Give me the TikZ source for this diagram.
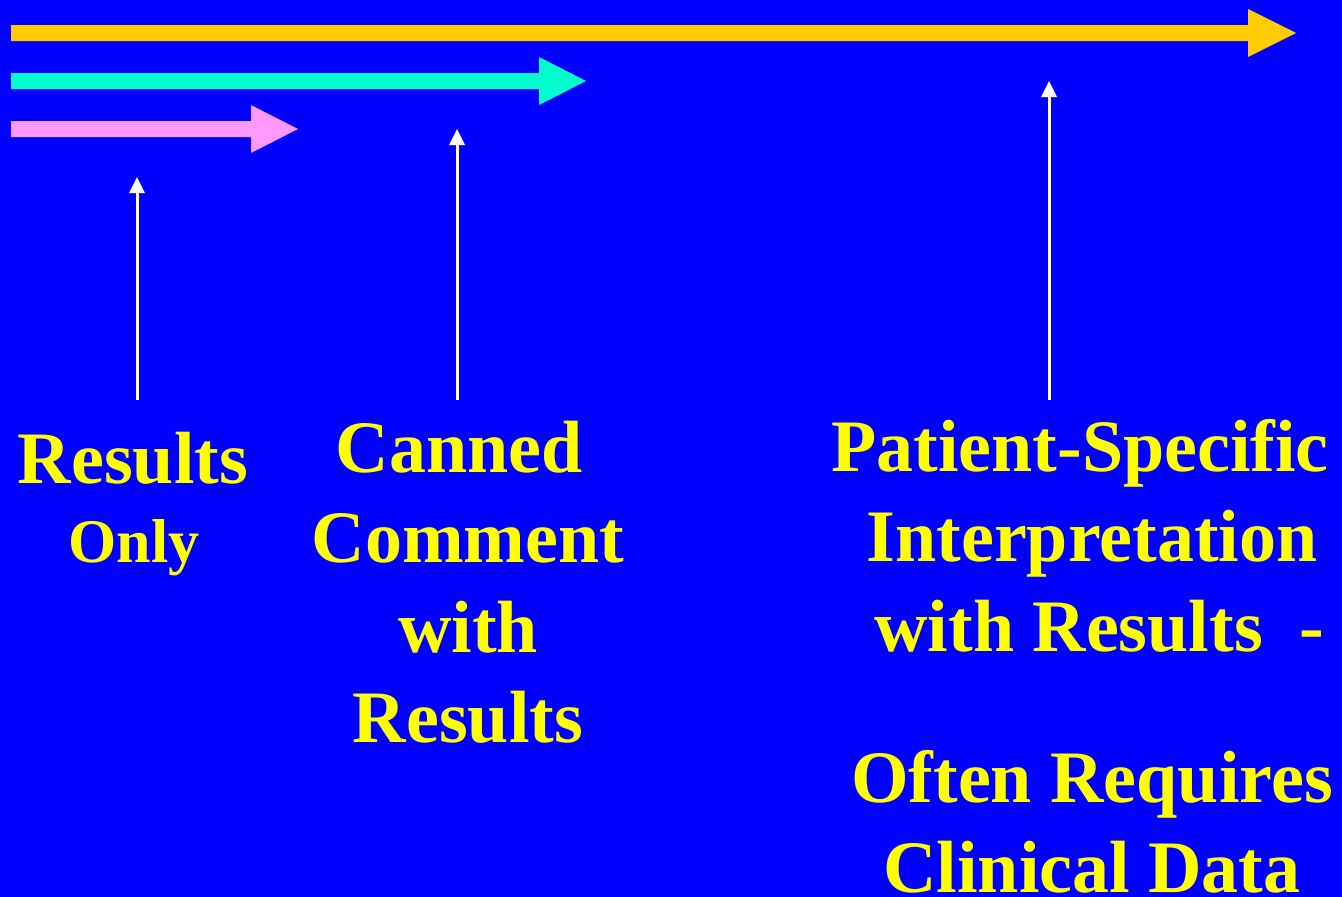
\documentclass[tikz,border=0pt]{standalone}
\usepackage{fontspec}
\setmainfont{Liberation Serif}
\usetikzlibrary{arrows.meta}
\definecolor{slideblue}{RGB}{0,0,255}
\definecolor{slideyellow}{RGB}{255,255,0}
\definecolor{barorange}{RGB}{255,204,0}
\definecolor{barcyan}{RGB}{0,255,204}
\definecolor{barpink}{RGB}{255,153,255}

\begin{document}
\begin{tikzpicture}[x=1pt,y=1pt]
\tikzstyle{every node}+=[inner sep=0pt]
\tikzstyle{slidetext}=[text=slideyellow,font=\bfseries\fontsize{74}{90}\selectfont,align=center,anchor=base]
\tikzstyle{pointer}=[draw=white,line width=3pt,-{Triangle[width=16pt,length=16pt,line width=0pt]}]
\useasboundingbox (0,0) rectangle (1342,-897);
\fill [slideblue] (0,0) rectangle (1342,-897);
% the three bars
\fill [barorange] (11,-25) -- (1248,-25) -- (1248,-9) -- (1296,-33) -- (1248,-57) -- (1248,-41) -- (11,-41) -- cycle;
\fill [barcyan] (11,-73) -- (539,-73) -- (539,-57) -- (586,-81) -- (539,-105) -- (539,-89) -- (11,-89) -- cycle;
\fill [barpink] (11,-121) -- (251,-121) -- (251,-105) -- (298,-129) -- (251,-153) -- (251,-137) -- (11,-137) -- cycle;
% labels
\node [slidetext] (results) at (133,-483) {Results};
\node [slidetext,font=\bfseries\fontsize{62}{75}\selectfont] (only) at (134,-562) {Only};
\node [slidetext] (canned) at (468,-742) {Canned\hspace*{18pt}\\Comment\\with\\Results};
\node [slidetext] (patient) at (1092,-892) {Patient-Specific\hspace*{24pt}\\Interpretation\hspace*{7pt}\\\hspace*{15pt}with Results\ \ -\\[61pt]Often Requires\\Clinical Data};
% pointers
\coordinate (r0) at (137,-400);
\coordinate (r1) at (137,-177);
\coordinate (c0) at (457,-400);
\coordinate (c1) at (457,-129);
\coordinate (s0) at (1049,-400);
\coordinate (s1) at (1049,-81);
\draw [pointer] (r0) -- (r1);
\draw [pointer] (c0) -- (c1);
\draw [pointer] (s0) -- (s1);
\end{tikzpicture}
\end{document}
